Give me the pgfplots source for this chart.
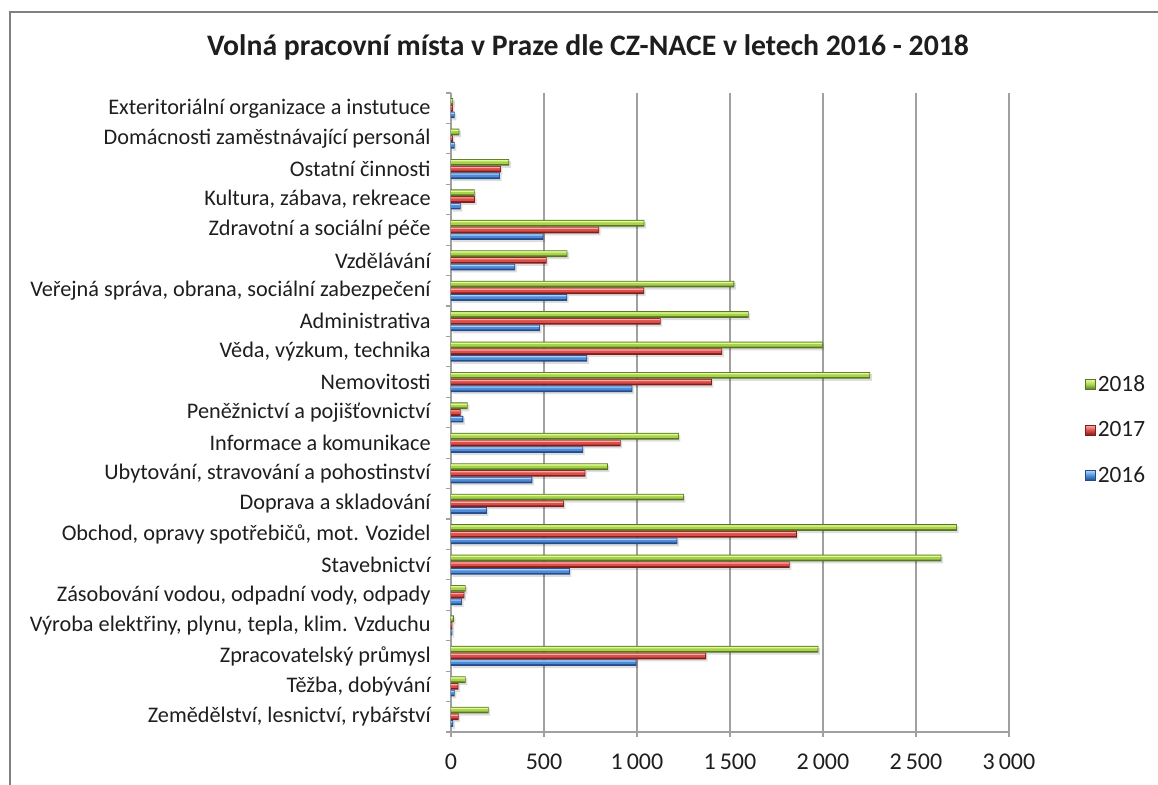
\documentclass[border=0pt]{standalone}
\usepackage{pgfplots}
\usepackage{pgfplotstable}
\pgfplotsset{compat=1.18}
\usepackage{fontspec}
\setmainfont{Carlito}

\definecolor{gridc}{HTML}{A0A0A0}
\definecolor{txt}{HTML}{1E1E1E}
\definecolor{bD}{RGB}{36,76,138}
\definecolor{bM}{RGB}{78,140,216}
\definecolor{bL}{RGB}{170,210,250}
\definecolor{rD}{RGB}{128,30,28}
\definecolor{rM}{RGB}{220,78,74}
\definecolor{rL}{RGB}{252,172,168}
\definecolor{gD}{RGB}{90,118,36}
\definecolor{gM}{RGB}{166,210,76}
\definecolor{gL}{RGB}{226,250,150}

% y = category (1 = bottom), values for 2016, 2017, 2018
\pgfplotstableread{
y   v16   v17   v18
1   12    41    202
2   20    40    79
3   997   1371  1975
4   8     8     15
5   59    72    79
6   639   1821  2637
7   1217  1859  2720
8   193   607   1252
9   437   723   843
10  710   912   1225
11  66    52    90
12  975   1402  2254
13  732   1458  1998
14  478   1127  1600
15  624   1038  1523
16  345   514   626
17  497   796   1040
18  52    129   127
19  263   268   313
20  20    10    45
21  20    10    12
}\vacancies

\pgfplotsset{
  shadowbar/.style={forget plot, fill=black, draw=none, opacity=0.13, bar width=5pt, bar shift=#1-1.6pt, xshift=1.2pt},
  darkbar/.style 2 args={forget plot, fill=#2, draw=none, bar width=5pt, bar shift=#1},
  midbar/.style 2 args={forget plot, fill=#2, draw=none, bar width=3.1pt, bar shift=#1+0.35pt, xshift=-0.6pt},
  lightbar/.style 2 args={forget plot, fill=#2, draw=none, bar width=0.9pt, bar shift=#1+1.2pt, xshift=-0.6pt},
}

\begin{document}
\begin{tikzpicture}
\useasboundingbox (0,0) rectangle (868.5pt,588.75pt);
\draw[gray, line width=1.2pt] (7.5pt,0) -- (7.5pt,579.75pt) -- (868.5pt,579.75pt);
\node[font=\fontsize{22.3}{26}\selectfont\bfseries, text=txt] at (441pt,553.5pt)
  {Volná pracovní místa v Praze dle CZ-NACE v letech 2016 - 2018};

\begin{axis}[
  at={(338.25pt,39.75pt)}, anchor=south west,
  scale only axis, width=418.5pt, height=479.25pt,
  xbar,
  xmin=0, xmax=3000, ymin=0.5, ymax=21.5,
  enlargelimits=false,
  axis x line*=bottom, axis y line*=left,
  axis line style={gridc, line width=0.9pt},
  xmajorgrids, major grid style={gridc, line width=0.9pt},
  tick align=outside, major tick length=3.75pt,
  tick style={gridc, line width=0.9pt},
  xtick={0,500,...,3000},
  xticklabels={0,500,1\,000,1\,500,2\,000,2\,500,3\,000},
  xticklabel style={font=\fontsize{18}{21}\selectfont, text=txt, yshift=-9.5pt},
  ytick={0.5,1.5,...,21.5},
  yticklabels={{Zemědělství, lesnictví, rybářství},{Těžba, dobývání},{Zpracovatelský průmysl},{Výroba elektřiny, plynu, tepla, klim. Vzduchu},{Zásobování vodou, odpadní vody, odpady},{Stavebnictví},{Obchod, opravy spotřebičů, mot. Vozidel},{Doprava a skladování},{Ubytování, stravování a pohostinství},{Informace a komunikace},{Peněžnictví a pojišťovnictví},{Nemovitosti},{Věda, výzkum, technika},{Administrativa},{Veřejná správa, obrana, sociální zabezpečení},{Vzdělávání},{Zdravotní a sociální péče},{Kultura, zábava, rekreace},{Ostatní činnosti},{Domácnosti zaměstnávající personál},{Exteritoriální organizace a instutuce},{}},
  yticklabel style={font=\fontsize{16.7}{19}\selectfont, text=txt, yshift=11.41pt, xshift=-8pt},
  legend style={draw=none, fill=none, at={(1.129,0.4726)}, anchor=west,
    font=\fontsize{17.5}{20}\selectfont, text=txt, row sep=17pt},
  legend cell align=left,
  legend image code/.code={\draw[#1] (0pt,-3.6pt) rectangle (7pt,3.6pt);},
]
% shadows
\addplot[shadowbar=-5pt] table[x=v16, y=y] {\vacancies};
\addplot[shadowbar=0pt] table[x=v17, y=y] {\vacancies};
\addplot[shadowbar=5pt] table[x=v18, y=y] {\vacancies};
% 2016
\addplot[darkbar={-5pt}{bD}] table[x=v16, y=y] {\vacancies};
\addplot[midbar={-5pt}{bM}] table[x=v16, y=y] {\vacancies};
\addplot[lightbar={-5pt}{bL}] table[x=v16, y=y] {\vacancies};
% 2017
\addplot[darkbar={0pt}{rD}] table[x=v17, y=y] {\vacancies};
\addplot[midbar={0pt}{rM}] table[x=v17, y=y] {\vacancies};
\addplot[lightbar={0pt}{rL}] table[x=v17, y=y] {\vacancies};
% 2018
\addplot[darkbar={5pt}{gD}] table[x=v18, y=y] {\vacancies};
\addplot[midbar={5pt}{gM}] table[x=v18, y=y] {\vacancies};
\addplot[lightbar={5pt}{gL}] table[x=v18, y=y] {\vacancies};

\addlegendimage{draw=gD, top color=gL, bottom color=gD, middle color=gM}
\addlegendentry{2018}
\addlegendimage{draw=rD, top color=rL, bottom color=rD, middle color=rM}
\addlegendentry{2017}
\addlegendimage{draw=bD, top color=bL, bottom color=bD, middle color=bM}
\addlegendentry{2016}
\end{axis}
\end{tikzpicture}
\end{document}
